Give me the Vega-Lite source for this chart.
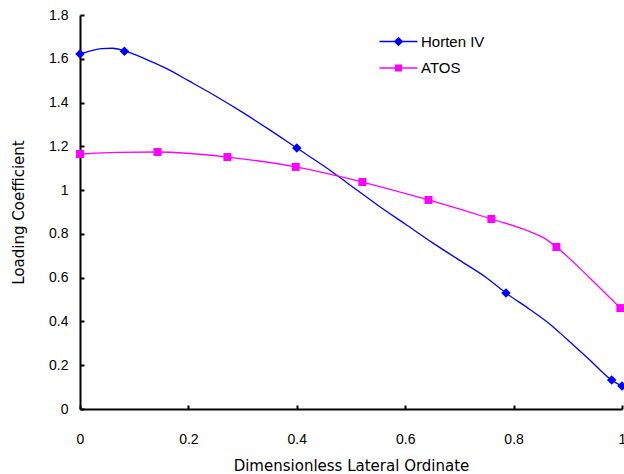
{
  "$schema": "https://vega.github.io/schema/vega-lite/v6.json",
  "width": 542,
  "height": 394,
  "autosize": {"type": "none"},
  "padding": {"left": 80, "top": 15, "right": 2, "bottom": 65},
  "background": "white",
  "config": {
    "view": {"stroke": null},
    "font": "Liberation Sans",
    "axis": {
      "domainColor": "black",
      "domainWidth": 2,
      "tickColor": "black",
      "tickWidth": 2,
      "tickSize": -4,
      "grid": false,
      "labelFont": "Liberation Sans",
      "titleFont": "DejaVu Sans",
      "labelFontSize": 14,
      "titleFontSize": 15,
      "labelColor": "black",
      "titleColor": "black",
      "titleFontWeight": "normal"
    }
  },
  "datasets": {
    "curve": [
      {"series": "Horten IV", "x": 0, "y": 1.622},
      {"series": "Horten IV", "x": 0.02, "y": 1.636},
      {"series": "Horten IV", "x": 0.04, "y": 1.646},
      {"series": "Horten IV", "x": 0.06, "y": 1.648},
      {"series": "Horten IV", "x": 0.082, "y": 1.636},
      {"series": "Horten IV", "x": 0.12, "y": 1.6},
      {"series": "Horten IV", "x": 0.16, "y": 1.555},
      {"series": "Horten IV", "x": 0.2, "y": 1.5},
      {"series": "Horten IV", "x": 0.25, "y": 1.43},
      {"series": "Horten IV", "x": 0.3, "y": 1.355},
      {"series": "Horten IV", "x": 0.35, "y": 1.275},
      {"series": "Horten IV", "x": 0.4, "y": 1.192},
      {"series": "Horten IV", "x": 0.45, "y": 1.11},
      {"series": "Horten IV", "x": 0.5, "y": 1.02},
      {"series": "Horten IV", "x": 0.55, "y": 0.93},
      {"series": "Horten IV", "x": 0.6, "y": 0.845},
      {"series": "Horten IV", "x": 0.65, "y": 0.76},
      {"series": "Horten IV", "x": 0.7, "y": 0.68},
      {"series": "Horten IV", "x": 0.75, "y": 0.6},
      {"series": "Horten IV", "x": 0.786, "y": 0.53},
      {"series": "Horten IV", "x": 0.83, "y": 0.455},
      {"series": "Horten IV", "x": 0.866, "y": 0.39},
      {"series": "Horten IV", "x": 0.9, "y": 0.315},
      {"series": "Horten IV", "x": 0.94, "y": 0.225},
      {"series": "Horten IV", "x": 0.981, "y": 0.132},
      {"series": "Horten IV", "x": 1.0, "y": 0.105},
      {"series": "ATOS", "x": 0, "y": 1.165},
      {"series": "ATOS", "x": 0.07, "y": 1.172},
      {"series": "ATOS", "x": 0.143, "y": 1.174},
      {"series": "ATOS", "x": 0.272, "y": 1.151},
      {"series": "ATOS", "x": 0.398, "y": 1.106},
      {"series": "ATOS", "x": 0.521, "y": 1.037},
      {"series": "ATOS", "x": 0.643, "y": 0.955},
      {"series": "ATOS", "x": 0.759, "y": 0.868},
      {"series": "ATOS", "x": 0.83, "y": 0.81},
      {"series": "ATOS", "x": 0.86, "y": 0.775},
      {"series": "ATOS", "x": 0.879, "y": 0.74},
      {"series": "ATOS", "x": 0.94, "y": 0.6},
      {"series": "ATOS", "x": 0.997, "y": 0.461}
    ],
    "markers": [
      {"series": "Horten IV", "x": 0, "y": 1.622},
      {"series": "Horten IV", "x": 0.082, "y": 1.634},
      {"series": "Horten IV", "x": 0.4, "y": 1.192},
      {"series": "Horten IV", "x": 0.786, "y": 0.53},
      {"series": "Horten IV", "x": 0.981, "y": 0.132},
      {"series": "Horten IV", "x": 1.0, "y": 0.105},
      {"series": "ATOS", "x": 0, "y": 1.165},
      {"series": "ATOS", "x": 0.143, "y": 1.174},
      {"series": "ATOS", "x": 0.272, "y": 1.151},
      {"series": "ATOS", "x": 0.398, "y": 1.106},
      {"series": "ATOS", "x": 0.521, "y": 1.037},
      {"series": "ATOS", "x": 0.643, "y": 0.955},
      {"series": "ATOS", "x": 0.759, "y": 0.868},
      {"series": "ATOS", "x": 0.879, "y": 0.74},
      {"series": "ATOS", "x": 0.997, "y": 0.461}
    ]
  },
  "encoding": {
    "x": {
      "field": "x", "type": "quantitative",
      "scale": {"domain": [0, 1], "nice": false},
      "axis": {"values": [0, 0.2, 0.4, 0.6, 0.8, 1], "format": "~g", "title": "Dimensionless Lateral Ordinate", "labelPadding": 27, "titlePadding": 12, "labelFlush": false}
    },
    "y": {
      "field": "y", "type": "quantitative",
      "scale": {"domain": [0, 1.8], "nice": false},
      "axis": {"values": [0, 0.2, 0.4, 0.6, 0.8, 1, 1.2, 1.4, 1.6, 1.8], "format": "~g", "title": "Loading Coefficient", "labelPadding": 16, "titlePadding": 22, "labelFlush": false}
    },
    "color": {
      "field": "series", "type": "nominal",
      "scale": {"domain": ["Horten IV", "ATOS"], "range": ["#0000FF", "#FF00FF"]},
      "legend": {
        "title": null,
        "orient": "none",
        "legendX": 311,
        "legendY": 19,
        "padding": 0,
        "symbolSize": 100,
        "labelFontSize": 15,
        "labelFont": "Liberation Sans",
        "labelColor": "black",
        "labelOffset": 15,
        "rowPadding": 10.5,
        "encode": {
          "symbols": {
            "update": {
              "shape": {"signal": "datum.label === 'ATOS' ? 'M-3.8,-0.13L3.8,-0.13L3.8,0.13L-3.8,0.13Z M-0.7,-0.7L0.7,-0.7L0.7,0.7L-0.7,0.7Z' : 'M-3.8,-0.13L3.8,-0.13L3.8,0.13L-3.8,0.13Z M0,-0.95L0.95,0L0,0.95L-0.95,0Z'"},
              "fill": {"signal": "datum.label === 'ATOS' ? '#FF00FF' : '#0000FF'"},
              "fillOpacity": {"value": 1},
              "stroke": {"value": "transparent"},
              "strokeWidth": {"value": 0},
              "opacity": {"value": 1}
            }
          }
        }
      }
    }
  },
  "layer": [
    {
      "data": {"name": "curve"},
      "mark": {"type": "line", "strokeWidth": 1.3, "interpolate": "monotone", "clip": false},
      "encoding": {"detail": {"field": "series"}}
    },
    {
      "data": {"name": "markers"},
      "transform": [{"filter": "datum.series === 'Horten IV'"}],
      "mark": {"type": "point", "shape": "diamond", "filled": true, "opacity": 1, "size": 90, "clip": false}
    },
    {
      "data": {"name": "markers"},
      "transform": [{"filter": "datum.series === 'ATOS'"}],
      "mark": {"type": "point", "shape": "square", "filled": true, "opacity": 1, "size": 64, "clip": false}
    }
  ]
}
